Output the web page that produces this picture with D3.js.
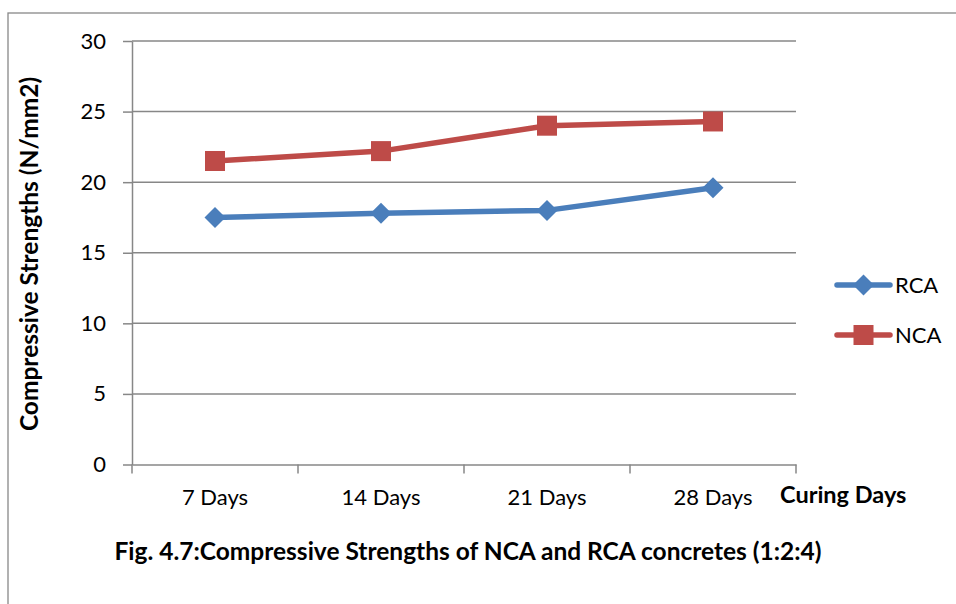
<!DOCTYPE html>
<html><head><meta charset="utf-8">
<script src="https://cdn.jsdelivr.net/npm/d3@7"></script>
<style>body{margin:0;background:#fff}svg{display:block}text{font-family:Lato,"Open Sans",sans-serif}</style>
</head><body>
<svg id="c" width="956" height="604"></svg>
<script>
const categories = ["7 Days","14 Days","21 Days","28 Days"];
const rca = [17.5, 17.8, 18.0, 19.6];
const nca = [21.5, 22.2, 24.0, 24.3];
const yTicks = [0,5,10,15,20,25,30];
const seriesNames = ["RCA","NCA"];

const svg = d3.select("#c");
const m = {l:132, r:796, t:41, b:464.5};
const FS = 22, FB = 23.5, FT = 24.5;
svg.append("rect").attr("x",8).attr("y",13).attr("width",1000).attr("height",700)
  .attr("fill","none").attr("stroke","#888").attr("stroke-width",1.3);

const x = d3.scaleBand().domain(categories).range([m.l,m.r]);
const y = d3.scaleLinear().domain([0,30]).range([m.b,m.t]);

svg.append("g").selectAll("line").data(yTicks.filter(d=>d>0)).join("line")
  .attr("x1",m.l).attr("x2",m.r).attr("y1",d=>y(d)).attr("y2",d=>y(d))
  .attr("stroke","#878787").attr("stroke-width",1.5);

const ya = svg.append("g").attr("transform",`translate(${m.l},0)`)
  .call(d3.axisLeft(y).tickValues(yTicks).tickSize(9).tickPadding(17).tickSizeOuter(0));
ya.select(".domain").attr("stroke","#878787").attr("stroke-width",1.5);
ya.selectAll(".tick line").attr("stroke","#878787").attr("stroke-width",1.5);
ya.selectAll(".tick text").attr("font-size",FS).attr("fill","#000").attr("font-family","Lato,'Open Sans',sans-serif");

const xa = svg.append("g").attr("transform",`translate(0,${m.b})`)
  .call(d3.axisBottom(x).tickSize(0).tickSizeOuter(0).tickPadding(25));
xa.select(".domain").attr("stroke","#878787").attr("stroke-width",1.5);
xa.selectAll(".tick text").attr("font-size",FS).attr("fill","#000").attr("font-family","Lato,'Open Sans',sans-serif");
const bounds = [m.l].concat(categories.map(c=>x(c)+x.bandwidth()));
svg.append("g").selectAll("line").data(bounds).join("line")
  .attr("x1",d=>d).attr("x2",d=>d).attr("y1",m.b).attr("y2",m.b+9)
  .attr("stroke","#878787").attr("stroke-width",1.5);

const cx = c => x(c)+x.bandwidth()/2;
const line = d3.line().x((d,i)=>cx(categories[i])).y(d=>y(d));
const colors = {RCA:"#4a7ebb", NCA:"#be4b48"};

function drawSeries(vals, name, shape){
  svg.append("path").datum(vals).attr("d",line).attr("fill","none")
    .attr("stroke",colors[name]).attr("stroke-width",5.5).attr("stroke-linejoin","round");
  const g = svg.append("g");
  if(shape==="square"){
    g.selectAll("rect").data(vals).join("rect")
      .attr("x",(d,i)=>cx(categories[i])-10).attr("y",d=>y(d)-10)
      .attr("width",20).attr("height",20).attr("fill",colors[name]);
  } else {
    g.selectAll("path").data(vals).join("path")
      .attr("transform",(d,i)=>`translate(${cx(categories[i])},${y(d)})`)
      .attr("d","M0,-10.5L10.5,0L0,10.5L-10.5,0Z").attr("fill",colors[name]);
  }
}
drawSeries(rca,"RCA","diamond");
drawSeries(nca,"NCA","square");

const lg = [{n:"RCA",y:285,s:"diamond"},{n:"NCA",y:335,s:"square"}];
lg.forEach(o=>{
  svg.append("line").attr("x1",837).attr("x2",890).attr("y1",o.y).attr("y2",o.y)
    .attr("stroke",colors[o.n]).attr("stroke-width",5.5).attr("stroke-linecap","round");
  if(o.s==="square") svg.append("rect").attr("x",853.5).attr("y",o.y-10).attr("width",20).attr("height",20).attr("fill",colors[o.n]);
  else svg.append("path").attr("transform",`translate(863.5,${o.y})`).attr("d","M0,-10.5L10.5,0L0,10.5L-10.5,0Z").attr("fill",colors[o.n]);
  svg.append("text").attr("x",895).attr("y",o.y+8).attr("font-size",FS).text(o.n);
});

svg.append("text").attr("transform","translate(38,254) rotate(-90)").attr("text-anchor","middle")
  .attr("font-size",FT).attr("font-weight","bold").text("Compressive Strengths (N/mm2)");
svg.append("text").attr("x",780).attr("y",503).attr("font-size",FB).attr("font-weight","bold").text("Curing Days");
svg.append("text").attr("x",468).attr("y",560).attr("text-anchor","middle").attr("font-size",FT).attr("font-weight","bold")
  .text("Fig. 4.7:Compressive Strengths of NCA and RCA concretes (1:2:4)");
</script>
</body></html>
